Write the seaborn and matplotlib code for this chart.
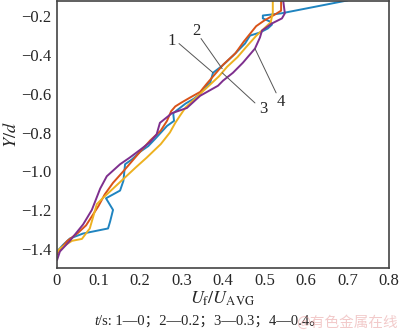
import matplotlib
matplotlib.use("Agg")
import matplotlib.pyplot as plt
import seaborn as sns
import pandas as pd

# ---- data ----
x1 = [0.70, 0.54, 0.496, 0.496, 0.513, 0.518, 0.508, 0.489, 0.465, 0.453, 0.424, 0.398, 0.376, 0.369, 0.352,
      0.345, 0.33, 0.31, 0.295, 0.28, 0.282, 0.265, 0.236, 0.22, 0.20, 0.18, 0.164, 0.16, 0.152, 0.118, 0.135,
      0.128, 0.123, 0.063, 0.031, 0.015, 0.0]
y1 = [-0.117, -0.184, -0.195, -0.21, -0.226, -0.242, -0.262, -0.283, -0.299, -0.34, -0.403, -0.455, -0.491, -0.543,
      -0.574, -0.60, -0.625, -0.65, -0.675, -0.70, -0.74, -0.766, -0.834, -0.87, -0.90, -0.94, -0.964, -1.05, -1.10,
      -1.14, -1.20, -1.26, -1.296, -1.322, -1.348, -1.38, -1.415]

x2 = [0.54, 0.54, 0.525, 0.50, 0.48, 0.465, 0.45, 0.43, 0.40, 0.38, 0.36, 0.345, 0.32, 0.30, 0.285, 0.275, 0.265,
      0.25, 0.225, 0.20, 0.18, 0.16, 0.135, 0.115, 0.10, 0.085, 0.07, 0.05, 0.025, 0.005, 0.0]
y2 = [-0.117, -0.17, -0.19, -0.22, -0.25, -0.29, -0.33, -0.39, -0.45, -0.50, -0.55, -0.59, -0.62, -0.645, -0.665,
      -0.69, -0.74, -0.79, -0.84, -0.90, -0.95, -1.00, -1.06, -1.12, -1.18, -1.23, -1.28, -1.32, -1.36, -1.41, -1.43]

x3 = [0.52, 0.52, 0.515, 0.50, 0.48, 0.455, 0.435, 0.41, 0.39, 0.37, 0.35, 0.33, 0.31, 0.296, 0.285, 0.272,
      0.25, 0.216, 0.19, 0.17, 0.15, 0.13, 0.11, 0.096, 0.079, 0.06, 0.036, 0.007, 0.0]
y3 = [-0.117, -0.18, -0.23, -0.26, -0.30, -0.36, -0.41, -0.46, -0.51, -0.55, -0.59, -0.63, -0.67, -0.714, -0.75,
      -0.80, -0.86, -0.93, -0.98, -1.02, -1.06, -1.10, -1.14, -1.17, -1.296, -1.35, -1.36, -1.40, -1.42]

x4 = [0.545, 0.549, 0.542, 0.518, 0.494, 0.489, 0.477, 0.448, 0.424, 0.400, 0.388, 0.345, 0.313, 0.277, 0.248,
      0.24, 0.224, 0.20, 0.175, 0.152, 0.12, 0.104, 0.084, 0.063, 0.031, 0.007, 0.0]
y4 = [-0.117, -0.184, -0.21, -0.236, -0.273, -0.309, -0.366, -0.439, -0.491, -0.532, -0.558, -0.61, -0.673, -0.70,
      -0.75, -0.81, -0.85, -0.89, -0.93, -0.964, -1.026, -1.09, -1.2, -1.275, -1.36, -1.415, -1.46]

series = ["1", "2", "3", "4"]
colors = ["#1f84c0", "#d95319", "#edb120", "#7e2f8e"]
xticks = [0, 0.1, 0.2, 0.3, 0.4, 0.5, 0.6, 0.7, 0.8]
xticklabels = ["0", "0.1", "0.2", "0.3", "0.4", "0.5", "0.6", "0.7", "0.8"]
yticks = [-1.4, -1.2, -1.0, -0.8, -0.6, -0.4, -0.2]
yticklabels = ["\u22121.4", "\u22121.2", "\u22121.0", "\u22120.8", "\u22120.6", "\u22120.4", "\u22120.2"]
caption = "/s: 1\u20140\uff1b2\u20140.2\uff1b3\u20140.3\uff1b4\u20140.4\u3002"

frames = []
for name, xs, ys in zip(series, [x1, x2, x3, x4], [y1, y2, y3, y4]):
    frames.append(pd.DataFrame({"U": xs, "Y": ys, "t": name}))
df = pd.concat(frames, ignore_index=True)

sns.set_theme(style="white")
plt.rcParams["font.family"] = ["Liberation Serif", "Noto Sans CJK SC"]
plt.rcParams["mathtext.fontset"] = "stix"

fig = plt.figure(figsize=(4.0, 3.32), dpi=100)
ax = fig.add_axes([0.1425, 0.193, 0.83, 0.804])

sns.lineplot(data=df, x="U", y="Y", hue="t", palette=dict(zip(series, colors)),
             sort=False, estimator=None, units="t", legend=False, linewidth=1.4, ax=ax)

ax.set_xlim(0, 0.8)
ax.set_ylim(-1.5, -0.12)
ax.set_xticks(xticks)
ax.set_xticklabels(xticklabels, fontsize=12)
ax.set_yticks(yticks)
ax.set_yticklabels(yticklabels, fontsize=12)
ax.tick_params(direction="in", length=4, width=0.8, color="#333333", pad=4)
for s in ax.spines.values():
    s.set_color("#444444")
    s.set_linewidth(1.2)

ax.set_xlabel(r"$U_\mathrm{f}/U_\mathrm{AVG}$", fontsize=13, labelpad=0)
ax.set_ylabel(r"$Y/d$", fontsize=13, labelpad=1)

# annotations
ann = [("1", (0.277, -0.325), (0.294, -0.340), (0.376, -0.491)),
       ("2", (0.335, -0.275), (0.347, -0.314), (0.398, -0.470)),
       ("3", (0.496, -0.680), (0.398, -0.491), (0.477, -0.647)),
       ("4", (0.540, -0.640), (0.477, -0.366), (0.528, -0.595))]
for lab, tp, a, b in ann:
    ax.plot([a[0], b[0]], [a[1], b[1]], color="#555555", lw=0.7)
    ax.text(tp[0], tp[1], lab, fontsize=12, ha="center", va="center")

fig.text(0.245, 0.031, "t", fontsize=10.5, style="italic", ha="right", va="center")
fig.text(0.245, 0.031, caption, fontsize=10.5, ha="left", va="center",
         family=["Liberation Serif", "Noto Sans CJK SC"])
fig.text(0.995, 0.028, "@有色金属在线", fontsize=10.5, ha="right", va="center",
         color="#e8a0a0", alpha=0.55, family=["Noto Sans CJK SC", "DejaVu Sans"])

fig.savefig("out.png", dpi=100)
